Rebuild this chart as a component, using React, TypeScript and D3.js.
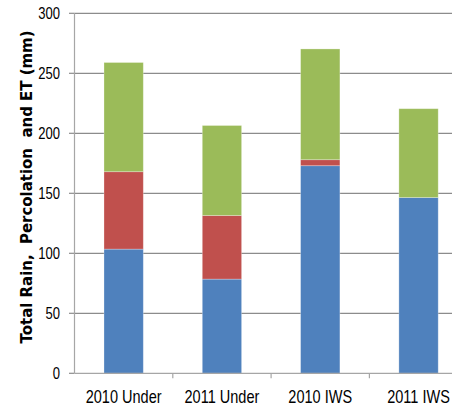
import React from "react";
import * as d3 from "d3";

const categories = ["2010 Under", "2011 Under", "2010 IWS", "2011 IWS"];
const seriesBlue = [103.5, 78.5, 173, 146.5];
const seriesRed = [64.5, 53, 5, 0];
const seriesGreen = [91, 75, 92.3, 74];
const yTicks = [0, 50, 100, 150, 200, 250, 300];
const seriesColors = ["#4F81BD", "#C0504D", "#9BBB59"];
const yTitle = "Total Rain,  Percolation  and ET (mm)";

export default function App() {
  const W = 452, H = 409;
  const left = 74.5, top = 13.3, bottom = 373.3;
  const step = 98.3;
  const x = d3.scaleBand<string>().domain(categories).range([left, left + step * 4]).padding(0);
  const y = d3.scaleLinear().domain([0, 300]).range([bottom, top]);
  const table = categories.map((c, i) => ({ cat: c, blue: seriesBlue[i], red: seriesRed[i], green: seriesGreen[i] }));
  const stack = d3.stack<any>().keys(["blue", "red", "green"])(table);
  const barW = x.bandwidth() * 0.4;
  const font = "'Liberation Sans', Arial, sans-serif";

  return (
    <svg width={W} height={H} style={{ position: "absolute", left: 0, top: 0, background: "#fff" }}>
      {yTicks.map((t) => (
        <g key={t}>
          {t > 0 && (
            <line x1={left} x2={W} y1={y(t)} y2={y(t)} stroke="#8c8c8c" strokeWidth={1.2} />
          )}
          <line x1={left - 5.5} x2={left} y1={y(t)} y2={y(t)} stroke="#8c8c8c" strokeWidth={1.2} />
          <g transform={`translate(60,${y(t)}) scale(0.79,1)`}>
            <text x={0} y={0} dy="0.36em" textAnchor="end" fontFamily={font} fontSize={16.5} fill="#000">
              {t}
            </text>
          </g>
        </g>
      ))}
      {stack.map((s, si) =>
        s.map((d, i) => (
          <rect
            key={si + "-" + i}
            x={(x(categories[i]) as number) + (x.bandwidth() - barW) / 2}
            y={y(d[1])}
            width={barW}
            height={Math.max(0, y(d[0]) - y(d[1]))}
            fill={seriesColors[si]}
            stroke="rgba(255,255,255,0.35)"
            strokeWidth={0.8}
          />
        ))
      )}
      <line x1={left} x2={left} y1={top} y2={bottom} stroke="#a6a6a6" strokeWidth={1.2} />
      <line x1={left} x2={W} y1={bottom} y2={bottom} stroke="#a6a6a6" strokeWidth={1.2} />
      {categories.map((c, i) => (
        <line key={"t" + i} x1={(x(c) as number) + step} x2={(x(c) as number) + step} y1={bottom} y2={bottom + 5} stroke="#a6a6a6" strokeWidth={1.2} />
      ))}
      {categories.map((c) => (
        <g key={c} transform={`translate(${(x(c) as number) + x.bandwidth() / 2},403) scale(0.83,1)`}>
          <text x={0} y={0} textAnchor="middle" fontFamily={font} fontSize={17.5} fill="#000">
            {c}
          </text>
        </g>
      ))}
      <text
        transform={`translate(26.5,187) rotate(-90)`}
        textAnchor="middle"
        dy="0.35em"
        fontFamily="'DejaVu Sans', Verdana, sans-serif"
        fontWeight="bold"
        fontSize={15}
        textLength={313}
        lengthAdjust="spacingAndGlyphs"
        fill="#000"
        style={{ whiteSpace: "pre" }}
      >
        {yTitle}
      </text>
    </svg>
  );
}
